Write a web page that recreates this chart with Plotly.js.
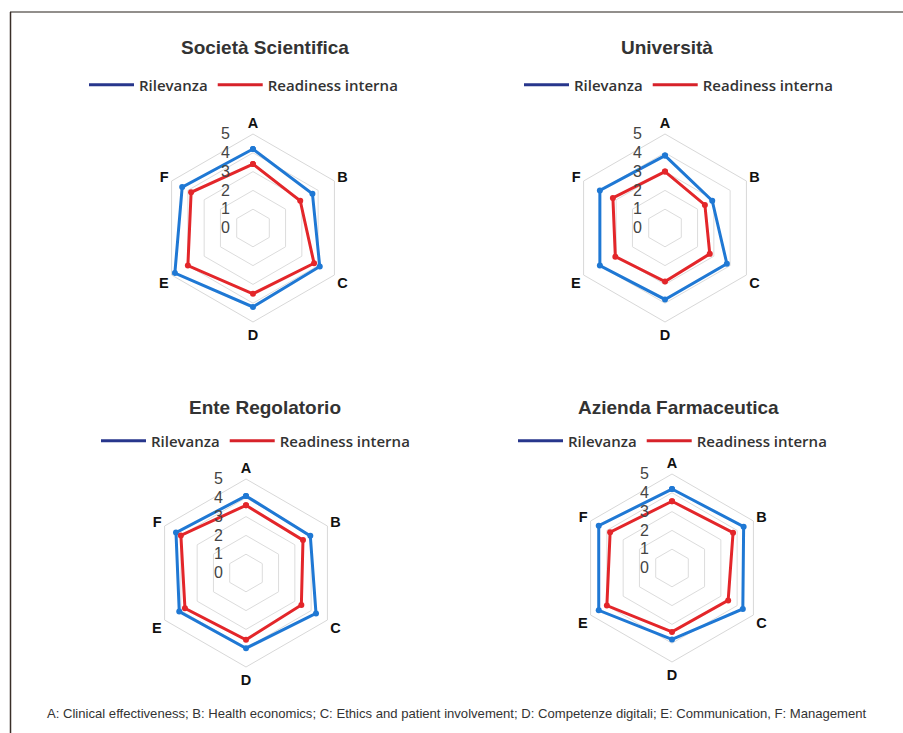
<!DOCTYPE html>
<html>
<head>
<meta charset="utf-8">
<script src="https://cdn.plot.ly/plotly-3.0.1.min.js"></script>
<style>html,body{margin:0;padding:0;background:#fff;}#chart{width:903px;height:733px;}</style>
</head>
<body>
<div id="chart"></div>
<script>
const categories = ['A', 'B', 'C', 'D', 'E', 'F'];
const radialTicks = [0, 1, 2, 3, 4, 5];
const seriesNames = ['Rilevanza', 'Readiness interna'];
const panelTitles = ['Società Scientifica', 'Università', 'Ente Regolatorio', 'Azienda Farmaceutica'];

const societaRilevanza = [4.2, 3.65, 4.1, 4.2, 4.8, 4.35];
const societaReadiness = [3.4, 2.9, 3.75, 3.5, 4.0, 3.8];
const universitaRilevanza = [3.85, 2.9, 3.8, 3.8, 4.0, 4.0];
const universitaReadiness = [3.0, 2.45, 2.75, 2.85, 3.05, 3.2];
const enteRilevanza = [4.1, 3.95, 4.3, 4.0, 4.1, 4.3];
const enteReadiness = [3.6, 3.5, 3.4, 3.55, 3.75, 4.0];
const aziendaRilevanza = [4.2, 4.4, 4.35, 3.8, 4.5, 4.5];
const aziendaReadiness = [3.55, 3.75, 3.45, 3.4, 4.0, 3.8];

const footnote = 'A: Clinical effectiveness; B: Health economics; C: Ethics and patient involvement; D: Competenze digitali; E: Communication, F: Management';

const panels = [
  [societaRilevanza, societaReadiness],
  [universitaRilevanza, universitaReadiness],
  [enteRilevanza, enteReadiness],
  [aziendaRilevanza, aziendaReadiness]
];

const W = 903, H = 733;
const px = v => v / W;
const py = v => 1 - v / H;
const R = 94;
const centers = [[253, 228], [665, 228], [246, 573], [672, 568]];
const titlePos = [[265, 48], [667, 48], [265, 407], [678, 407]];
const legendPos = [[84, 85], [519, 85], [96, 441], [513, 441]];

const markerColors = ['#1f78d4', '#e3262a'];
const legendColors = ['#27368c', '#d7222a'];

const data = [];
const layout = {
  width: W, height: H,
  margin: {l: 0, r: 0, t: 0, b: 0},
  paper_bgcolor: '#ffffff',
  font: {family: 'Liberation Sans, Arial, sans-serif', color: '#333'},
  annotations: [],
  shapes: [
    {type: 'line', xref: 'paper', yref: 'paper', x0: px(10), x1: 1, y0: py(12), y1: py(12), line: {color: '#6e6a66', width: 1.5}},
    {type: 'line', xref: 'paper', yref: 'paper', x0: px(10.5), x1: px(10.5), y0: 0, y1: py(12), line: {color: '#3a2e28', width: 1.5}}
  ]
};

panels.forEach((vals, i) => {
  const sub = i === 0 ? 'polar' : 'polar' + (i + 1);
  const leg = i === 0 ? 'legend' : 'legend' + (i + 1);
  vals.forEach((v, k) => {
    data.push({
      type: 'scatterpolar', subplot: sub,
      r: v.concat([v[0]]), theta: categories.concat([categories[0]]),
      mode: 'lines+markers',
      line: {color: markerColors[k], width: 3},
      marker: {color: markerColors[k], size: 6},
      name: seriesNames[k], showlegend: false, hoverinfo: 'skip'
    });
  });
  seriesNames.forEach((nm, k) => {
    data.push({
      type: 'scatterpolar', subplot: sub, legend: leg,
      r: [null], theta: [categories[0]], mode: 'lines',
      line: {color: legendColors[k], width: 3},
      name: nm, showlegend: true
    });
  });
  const [cx, cy] = centers[i];
  layout[sub] = {
    domain: {x: [px(cx - R), px(cx + R)], y: [py(cy + R), py(cy - R)]},
    bgcolor: 'rgba(0,0,0,0)',
    gridshape: 'linear',
    radialaxis: {
      range: [0, 5], tickvals: radialTicks, showline: false,
      ticks: 'outside', ticklen: 17, tickcolor: 'rgba(0,0,0,0)',
      gridcolor: '#dcdcdc', gridwidth: 1, angle: 90, tickangle: 90,
      side: 'counterclockwise',
      tickfont: {size: 16, color: '#444', family: 'Liberation Sans, Arial, sans-serif'}
    },
    angularaxis: {
      categoryorder: 'array', categoryarray: categories,
      rotation: 90, direction: 'clockwise', showgrid: false,
      linecolor: '#d8d8d8', linewidth: 1, ticks: '',
      tickfont: {size: 14.5, color: '#111', family: 'Liberation Sans, Arial, sans-serif', weight: 'bold'}
    }
  };
  const [lx, ly] = legendPos[i];
  layout[leg] = {
    orientation: 'h', x: px(lx), y: py(ly), xanchor: 'left', yanchor: 'middle',
    font: {size: 15, color: '#333', family: 'Open Sans, Arial, sans-serif', weight: 600},
    bgcolor: 'rgba(0,0,0,0)', itemwidth: 45, tracegroupgap: 0
  };
  const [tx, ty] = titlePos[i];
  layout.annotations.push({
    text: panelTitles[i], xref: 'paper', yref: 'paper', x: px(tx), y: py(ty),
    xanchor: 'center', yanchor: 'middle', showarrow: false,
    font: {size: 19, color: '#333', family: 'Liberation Sans, Arial, sans-serif', weight: 'bold'}
  });
});

layout.annotations.push({
  text: footnote, xref: 'paper', yref: 'paper', x: px(45), y: py(713),
  xanchor: 'left', yanchor: 'middle', showarrow: false,
  font: {size: 13.1, color: '#333', family: 'Liberation Sans, Arial, sans-serif'}
});

Plotly.newPlot('chart', data, layout, {displayModeBar: false, staticPlot: true});
</script>
</body>
</html>
